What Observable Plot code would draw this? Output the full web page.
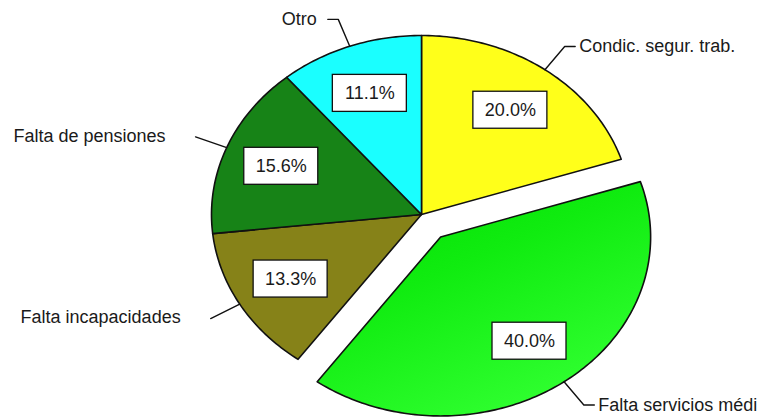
<!DOCTYPE html>
<html><head><meta charset="utf-8">
<script src="https://cdn.jsdelivr.net/npm/d3@7"></script>
<script src="https://cdn.jsdelivr.net/npm/@observablehq/plot@0.6"></script>
<style>
  body { margin: 0; background: #ffffff; }
  #chart svg { display: block; }
</style>
</head><body><div id="chart"></div>
<script>
// ---- data (clockwise from 12 o'clock) ----
const categories = ["Condic. segur. trab.", "Falta servicios médicos", "Falta incapacidades", "Falta de pensiones", "Otro"];
// category labels as they appear in the (cropped) reference picture
const shownLabels = ["Condic. segur. trab.", "Falta servicios médi", "Falta incapacidades", "Falta de pensiones", "Otro"];
const values = [20.0, 40.0, 13.3, 15.6, 11.1];
const percentLabels = ["20.0%", "40.0%", "13.3%", "15.6%", "11.1%"];
const sliceColors = ["#ffff1a", "url(#gradServicios)", "#868218", "#178317", "#1affff"];
const explodedCategories = ["Falta servicios médicos"];

// ---- layout ----
const W = 757, H = 417;
const cxPx = 421, cyPx = 214, rxPx = 210, ryPx = 179;
const xDomain = [-cxPx / rxPx, (W - cxPx) / rxPx];
const yDomain = [-(H - cyPx) / ryPx, cyPx / ryPx];
const explodeDist = 0.155;
const labelR = 0.72;
const elbowR = 1.16;
const tailLen = 0.05;
const boxHalfW = 37 / rxPx, boxHalfH = 18.5 / ryPx;

const total = d3.sum(values);
let acc = 0;
const slices = categories.map((c, i) => {
  const a0 = acc / total * 2 * Math.PI;
  acc += values[i];
  const a1 = acc / total * 2 * Math.PI;
  const mid = (a0 + a1) / 2;
  const off = explodedCategories.includes(c) ? explodeDist : 0;
  return {c, i, a0, a1, mid, ox: off * Math.sin(mid), oy: off * Math.cos(mid)};
});

// slice polygons
const slicePts = [];
for (const s of slices) {
  slicePts.push({c: s.c, x: s.ox, y: s.oy});
  const n = Math.max(8, Math.ceil((s.a1 - s.a0) / (Math.PI / 180)));
  for (let k = 0; k <= n; k++) {
    const a = s.a0 + (s.a1 - s.a0) * k / n;
    slicePts.push({c: s.c, x: s.ox + Math.sin(a), y: s.oy + Math.cos(a)});
  }
}

// leader lines + outer labels (horizontal tail only for labels near top/bottom)
const leaderPts = [];
const outerLabels = [];
for (const s of slices) {
  const sx = Math.sin(s.mid), sy = Math.cos(s.mid);
  const right = sx >= 0;
  const tail = Math.abs(sy) > 0.7;
  const ex = s.ox + elbowR * sx, ey = s.oy + elbowR * sy;
  const tx = tail ? ex + (right ? tailLen : -tailLen) : ex;
  leaderPts.push({c: s.c, x: s.ox + sx, y: s.oy + sy});
  leaderPts.push({c: s.c, x: ex, y: ey});
  if (tail) leaderPts.push({c: s.c, x: tx, y: ey});
  outerLabels.push({t: shownLabels[s.i], x: tx, y: ey, right, tail});
}

// percent labels
const pctLabels = slices.map(s => ({
  t: percentLabels[s.i],
  x: s.ox + labelR * Math.sin(s.mid),
  y: s.oy + labelR * Math.cos(s.mid)
}));

const font = "'Liberation Sans', Arial, Helvetica, sans-serif";

const chart = Plot.plot({
  width: W,
  height: H,
  margin: 0,
  x: {domain: xDomain, axis: null},
  y: {domain: yDomain, axis: null},
  color: {domain: categories, range: sliceColors},
  style: {background: "#ffffff", fontFamily: font, overflow: "hidden"},
  marks: [
    Plot.line(slicePts, {x: "x", y: "y", z: "c", fill: "c", stroke: "#111", strokeWidth: 1.6, curve: "linear-closed", strokeLinejoin: "round"}),
    Plot.line(leaderPts, {x: "x", y: "y", z: "c", stroke: "#111", strokeWidth: 1.4, curve: "linear"}),
    Plot.text(outerLabels.filter(d => d.right), {x: "x", y: "y", text: "t", textAnchor: "start", dx: 4, fontSize: 18, fill: "#1a1a1a"}),
    Plot.text(outerLabels.filter(d => !d.right && d.tail), {x: "x", y: "y", text: "t", textAnchor: "end", dx: -11, fontSize: 18, fill: "#1a1a1a"}),
    Plot.text(outerLabels.filter(d => !d.right && !d.tail), {x: "x", y: "y", text: "t", textAnchor: "end", dx: -30, dy: -1, fontSize: 18, fill: "#1a1a1a"}),
    Plot.rect(pctLabels, {x1: d => d.x - boxHalfW, x2: d => d.x + boxHalfW, y1: d => d.y - boxHalfH, y2: d => d.y + boxHalfH, fill: "#ffffff", stroke: "#111", strokeWidth: 1.3}),
    Plot.text(pctLabels, {x: "x", y: "y", text: "t", fontSize: 18, fill: "#1a1a1a"})
  ]
});

// gradient for the exploded green slice
const ns = "http://www.w3.org/2000/svg";
const defs = document.createElementNS(ns, "defs");
defs.innerHTML = `<linearGradient id="gradServicios" x1="0" y1="0" x2="0.6" y2="1">
  <stop offset="0" stop-color="#00dc00"/>
  <stop offset="0.45" stop-color="#10ec10"/>
  <stop offset="1" stop-color="#30ff30"/>
</linearGradient>`;
chart.insertBefore(defs, chart.firstChild);
document.getElementById("chart").appendChild(chart);
</script>
</body></html>
